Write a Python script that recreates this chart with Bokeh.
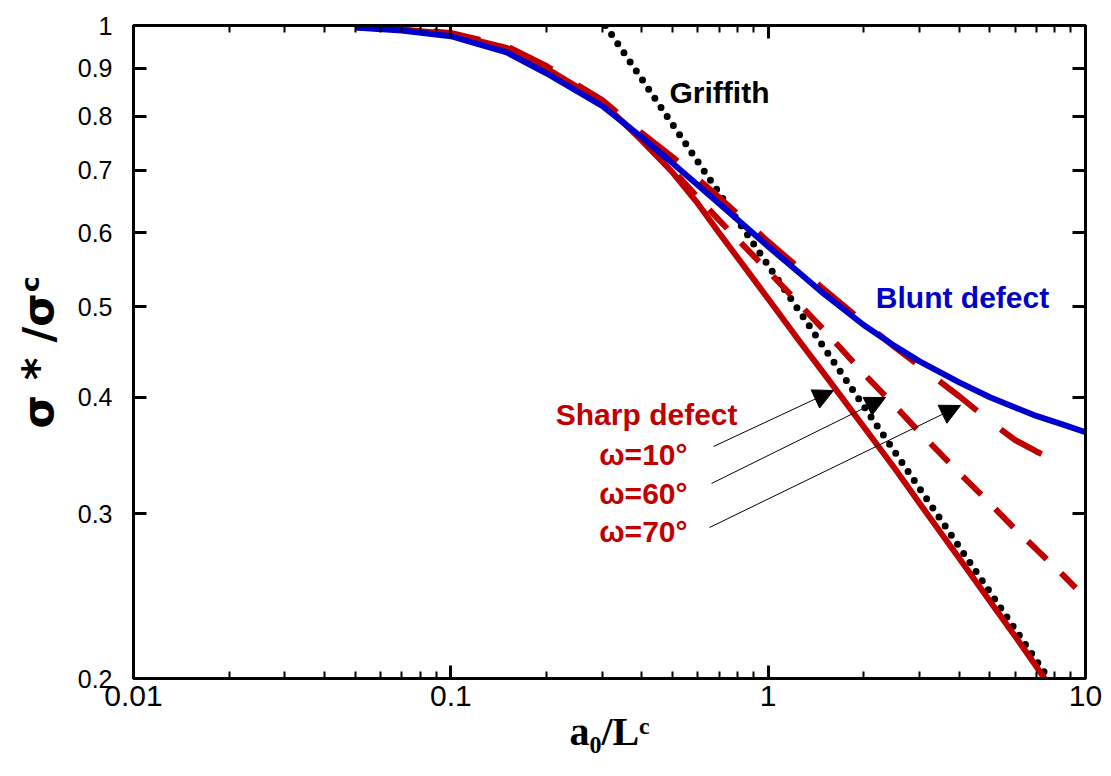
from bokeh.plotting import figure
from bokeh.models import Range1d, FixedTicker, LogAxis, Label, Arrow, NormalHead
from bokeh.embed import file_html
from bokeh.resources import INLINE

# ---------------- data ----------------
x_ticks = [0.01, 0.1, 1, 10]
x_tick_labels = ["0.01", "0.1", "1", "10"]
x_minor = [0.02, 0.03, 0.04, 0.05, 0.06, 0.07, 0.08, 0.09,
           0.2, 0.3, 0.4, 0.5, 0.6, 0.7, 0.8, 0.9,
           2, 3, 4, 5, 6, 7, 8, 9]
y_ticks = [0.2, 0.3, 0.4, 0.5, 0.6, 0.7, 0.8, 0.9, 1.0]
y_tick_labels = ["0.2", "0.3", "0.4", "0.5", "0.6", "0.7", "0.8", "0.9", "1"]

griffith_x = [0.307, 7.65]
griffith_y = [1.0, 0.2]

blunt_x = [0.05, 0.07, 0.1, 0.15, 0.2, 0.3, 0.4, 0.5, 0.7, 1, 1.25, 1.5, 2, 2.5, 3,
           4, 5, 6, 7, 8.5, 10]
blunt_y = [0.995, 0.988, 0.974, 0.936, 0.889, 0.820, 0.759, 0.712, 0.645, 0.580,
           0.544, 0.516, 0.478, 0.454, 0.437, 0.415, 0.400, 0.390, 0.382, 0.374, 0.367]

sharp10_x = [0.05, 0.07, 0.1, 0.15, 0.2, 0.3, 0.4, 0.5, 0.6, 0.7, 1, 1.25, 1.5, 2,
             2.5, 3, 4, 5, 6, 7, 7.65]
sharp10_y = [0.996, 0.990, 0.979, 0.946, 0.900, 0.828, 0.753, 0.696, 0.645, 0.600,
             0.510, 0.460, 0.424, 0.372, 0.336, 0.308, 0.269, 0.242, 0.222, 0.206, 0.197]

sharp60_x = [0.05, 0.07, 0.1, 0.15, 0.2, 0.3, 0.4, 0.5, 0.7, 1, 1.25, 1.5, 2, 2.5, 3,
             4, 5, 6, 7, 8.5, 9.31]
sharp60_y = [0.996, 0.989, 0.977, 0.941, 0.895, 0.824, 0.757, 0.700, 0.619, 0.546,
             0.504, 0.472, 0.424, 0.392, 0.367, 0.332, 0.308, 0.289, 0.275, 0.258, 0.250]

sharp70_x = [0.05, 0.07, 0.1, 0.15, 0.2, 0.3, 0.4, 0.5, 0.7, 1, 1.25, 1.5, 2, 2.5, 3,
             4, 5, 6, 7, 8.35]
sharp70_y = [0.998, 0.992, 0.982, 0.950, 0.905, 0.832, 0.767, 0.723, 0.655, 0.587,
             0.550, 0.522, 0.481, 0.453, 0.432, 0.401, 0.377, 0.360, 0.350, 0.340]

RED = "#C00000"
BLUE = "#0000CC"
SANS = "Liberation Sans"

p = figure(width=1103, height=768, x_axis_type="log", y_axis_type="log",
           x_range=Range1d(0.01, 10), y_range=Range1d(0.2, 1.0),
           output_backend="svg", toolbar_location=None,
           min_border_left=133, min_border_right=18, min_border_top=25,
           min_border_bottom=90)
p.grid.visible = False
p.outline_line_color = "black"
p.outline_line_width = 3
p.background_fill_color = "white"
p.border_fill_color = "white"

def style_axis(ax, ticks, minor, labels, show):
    ax.ticker = FixedTicker(ticks=ticks, minor_ticks=minor)
    ax.major_label_overrides = dict(zip(ticks, labels)) if show else {t: "" for t in ticks}
    ax.axis_line_width = 3
    ax.axis_line_color = "black"
    ax.major_tick_line_width = 3
    ax.minor_tick_line_width = 2
    ax.major_tick_in = 13
    ax.major_tick_out = 0
    ax.minor_tick_in = 7
    ax.minor_tick_out = 0

xa = p.xaxis[0]
style_axis(xa, x_ticks, x_minor, x_tick_labels, True)
xa.major_label_text_font = SANS
xa.major_label_text_font_size = "30px"
xa.major_label_standoff = 7
xa.major_label_text_color = "black"
xa.axis_label = "a₀/Lᶜ"
xa.axis_label_text_font = "Liberation Serif"
xa.axis_label_text_font_style = "bold"
xa.axis_label_text_font_size = "40px"
xa.axis_label_text_color = "black"
xa.axis_label_standoff = 0

ya = p.yaxis[0]
style_axis(ya, y_ticks, [], y_tick_labels, True)
ya.major_label_text_font = SANS
ya.major_label_text_font_size = "25px"
ya.major_label_standoff = 21
ya.major_label_text_color = "black"
ya.axis_label = "σ * /σᶜ"
ya.axis_label_text_font = "DejaVu Sans"
ya.axis_label_text_font_style = "bold"
ya.axis_label_text_font_size = "43px"
ya.axis_label_text_color = "black"
ya.axis_label_standoff = 12

top = LogAxis()
style_axis(top, x_ticks, x_minor, x_tick_labels, False)
top.major_label_text_font_size = "0px"
top.major_label_standoff = 0
p.add_layout(top, "above")

right = LogAxis()
style_axis(right, y_ticks, [], y_tick_labels, False)
right.major_label_text_font_size = "0px"
right.major_label_standoff = 0
p.add_layout(right, "right")

# curves
p.line(griffith_x, griffith_y, line_color="black", line_width=7,
       line_dash="0 11", line_cap="round")
p.line(sharp70_x, sharp70_y, line_color=RED, line_width=6, line_dash="48 30")
p.line(sharp60_x, sharp60_y, line_color=RED, line_width=6, line_dash="26 20")
p.line(sharp10_x, sharp10_y, line_color=RED, line_width=6, line_join="round")
p.line(blunt_x, blunt_y, line_color=BLUE, line_width=6, line_join="round")

# text labels (screen units relative to frame: left=0, bottom=0)
def lab(text, x, y, color, size, align="center", font=SANS, style="bold"):
    p.add_layout(Label(x=x, y=y, x_units="screen", y_units="screen", text=text,
                       text_color=color, text_font_size=size, text_font=font,
                       text_font_style=style, text_align=align,
                       text_baseline="middle"))

FL, FB = 133, 678  # frame left / bottom in picture px
lab("Griffith", 719 - FL, FB - 92, "black", "30px")
lab("Blunt defect", 962 - FL, FB - 297, BLUE, "30px")
lab("Sharp defect", 737 - FL, FB - 414, RED, "30px", align="right")
lab("ω=10°", 687 - FL, FB - 454, RED, "30px", align="right")
lab("ω=60°", 687 - FL, FB - 493, RED, "30px", align="right")
lab("ω=70°", 687 - FL, FB - 531, RED, "30px", align="right")

# arrows
for (x0, y0, x1, y1) in [(713, 446, 833, 390), (711, 483, 885, 397), (709, 527, 960, 405)]:
    p.add_layout(Arrow(x_start=x0 - FL, y_start=FB - y0, x_end=x1 - FL, y_end=FB - y1,
                       start_units="screen", end_units="screen", line_width=1,
                       line_color="black",
                       end=NormalHead(size=20, fill_color="black", line_color="black")))

open("out.html", "w").write(file_html(p, INLINE))
